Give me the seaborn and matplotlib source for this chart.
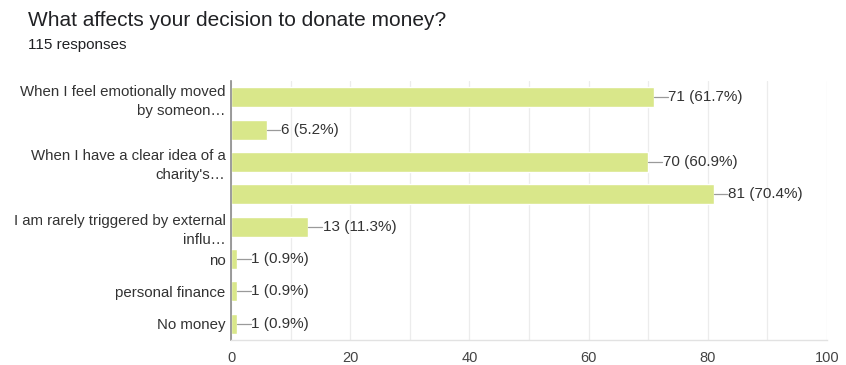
import matplotlib
matplotlib.use("Agg")
import matplotlib.pyplot as plt
import seaborn as sns
import pandas as pd

categories = [
    "When I feel emotionally moved\nby someon\u2026",
    "",
    "When I have a clear idea of a\ncharity's\u2026",
    " ",
    "I am rarely triggered by external\ninflu\u2026",
    "no",
    "personal finance",
    "No money",
]
counts = [71, 6, 70, 81, 13, 1, 1, 1]
percents = [61.7, 5.2, 60.9, 70.4, 11.3, 0.9, 0.9, 0.9]
total_responses = 115
x_ticks = [0, 20, 40, 60, 80, 100]

sns.set_theme(style="white")
plt.rcParams["font.family"] = ["Liberation Sans", "DejaVu Sans"]

df = pd.DataFrame({"option": categories, "count": counts})

fig = plt.figure(figsize=(8.46, 3.65), dpi=100)
ax = fig.add_axes([231 / 846, 1 - 340 / 365, (827 - 231) / 846, (340 - 81) / 365])

sns.barplot(data=df, y="option", x="count", orient="h", color="#d9e78a",
            saturation=1, width=0.62, ax=ax)

ax.set_xlim(0, 100)
ax.set_ylim(len(categories) - 0.5, -0.5)
ax.set_xticks(x_ticks)
ax.set_xticks(range(0, 101, 10), minor=True)
ax.grid(axis="x", which="both", color="#ececec", linewidth=0.9)
ax.set_axisbelow(True)
ax.tick_params(axis="x", which="both", length=0, labelsize=10.5, colors="#444444", pad=8)
ax.tick_params(axis="y", length=0, labelsize=10.8, colors="#333333", pad=4)
for lbl in ax.get_yticklabels():
    lbl.set_multialignment("right")
    lbl.set_linespacing(1.45)
ax.set_xlabel("")
ax.set_ylabel("")
for side in ["top", "right"]:
    ax.spines[side].set_visible(False)
ax.spines["left"].set_color("#8a8a8a")
ax.spines["left"].set_linewidth(1.2)
ax.spines["bottom"].set_color("#e2e2e2")
ax.spines["bottom"].set_linewidth(1.0)

for i, (c, p) in enumerate(zip(counts, percents)):
    ax.plot([c, c + 2.3], [i, i], color="#9a9a9a", linewidth=0.9, clip_on=False)
    ax.text(c + 2.4, i, f"{c} ({p}%)", va="center", ha="left",
            fontsize=11, color="#333333")

fig.text(28 / 846, 1 - 20 / 365, "What affects your decision to donate money?",
         fontsize=15, color="#202124", va="center", ha="left")
fig.text(28 / 846, 1 - 45 / 365, f"{total_responses} responses",
         fontsize=11, color="#202124", va="center", ha="left")

fig.savefig("out.png", dpi=100, facecolor="white")
